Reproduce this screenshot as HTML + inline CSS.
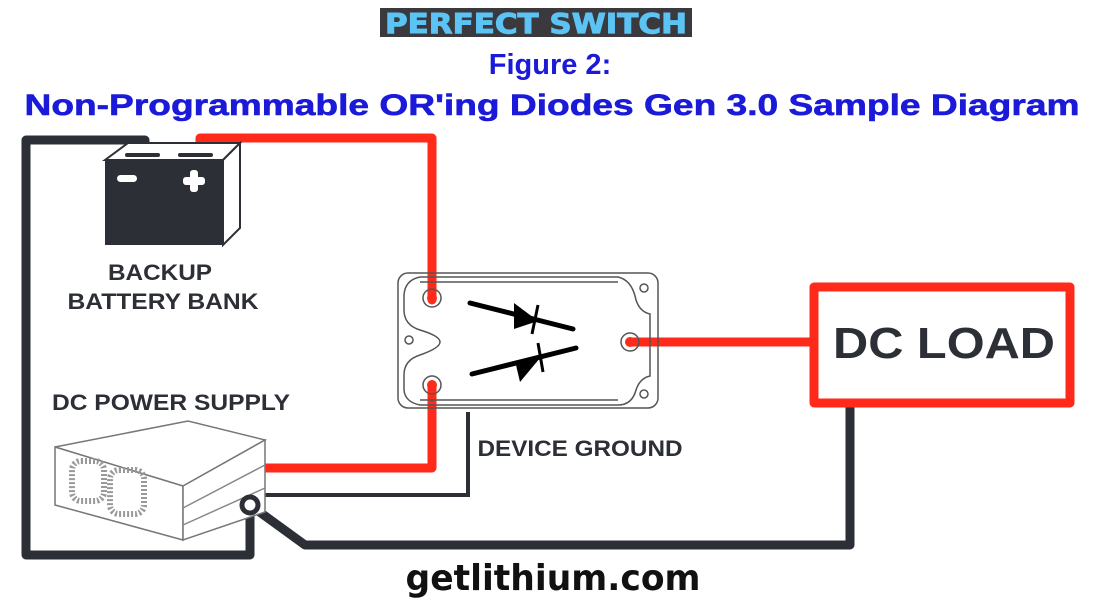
<!DOCTYPE html>
<html><head><meta charset="utf-8"><style>
html,body{margin:0;padding:0;background:#fff;}
body{width:1100px;height:606px;overflow:hidden;position:relative;font-family:"Liberation Sans",sans-serif;}
</style></head><body>
<svg width="1100" height="606" viewBox="0 0 1100 606" xmlns="http://www.w3.org/2000/svg" style="position:absolute;left:0;top:0">
<!-- logo -->
<rect x="380" y="8" width="312" height="29" fill="#3a3a3e"/>
<text x="536" y="33" text-anchor="middle" font-family="DejaVu Sans" font-weight="bold" font-size="28" fill="#5cc3f5" stroke="#5cc3f5" stroke-width="1" textLength="302" lengthAdjust="spacingAndGlyphs">PERFECT SWITCH</text>
<text x="550" y="74" text-anchor="middle" font-family="Liberation Sans" font-weight="bold" font-size="29" fill="#1a1ad8">Figure 2:</text>
<text x="552" y="115" text-anchor="middle" font-family="Liberation Sans" font-weight="bold" font-size="30" fill="#1a1ad8" stroke="#1a1ad8" stroke-width="0.6" textLength="1055" lengthAdjust="spacingAndGlyphs">Non-Programmable OR'ing Diodes Gen 3.0 Sample Diagram</text>

<!-- black wires -->
<g fill="none" stroke="#2c2f36" stroke-width="9" stroke-linejoin="round" stroke-linecap="round">
<polyline points="145,148 145,140 26,140 26,555 250,555 250,505"/>
<polyline points="250,505 305,545 850,545 850,405"/>
</g>
<polyline points="255,495 468,495 468,412" fill="none" stroke="#2c2f36" stroke-width="4"/>
<!-- red wires -->
<g fill="none" stroke="#ff2a1a" stroke-width="9" stroke-linejoin="round" stroke-linecap="round">
<polyline points="200,146 200,138 432,138 432,300"/>
<polyline points="432,385 432,468 252,468"/>
<polyline points="630,342 812,342"/>
</g>
<rect x="814" y="287" width="256" height="116" fill="none" stroke="#ff2a1a" stroke-width="9" stroke-linejoin="round"/>
<text x="944" y="358" text-anchor="middle" font-family="Liberation Sans" font-weight="bold" font-size="44" fill="#2c2f36" textLength="222" lengthAdjust="spacingAndGlyphs">DC LOAD</text>

<!-- battery -->
<rect x="105" y="160" width="118" height="85" fill="#2c2f36"/>
<polygon points="105,160 128,143 240,143 223,160" fill="#fff" stroke="#2c2f36" stroke-width="2"/>
<polygon points="223,160 240,143 240,228 223,245" fill="#fff" stroke="#2c2f36" stroke-width="2"/>
<rect x="125" y="153" width="35" height="4" rx="2" fill="#2c2f36"/>
<rect x="178" y="153" width="35" height="4" rx="2" fill="#2c2f36"/>
<rect x="117" y="175" width="20" height="7" rx="3.5" fill="#fff"/>
<rect x="190" y="170" width="8" height="22" rx="3" fill="#fff"/>
<rect x="183" y="177" width="22" height="8" rx="3" fill="#fff"/>
<g font-family="Liberation Sans" font-weight="bold" font-size="22" fill="#2c2f36" text-anchor="middle">
<text x="160" y="280" textLength="104" lengthAdjust="spacingAndGlyphs">BACKUP</text>
<text x="163" y="309" textLength="191" lengthAdjust="spacingAndGlyphs">BATTERY BANK</text>
<text x="171" y="410" textLength="238" lengthAdjust="spacingAndGlyphs">DC POWER SUPPLY</text>
<text x="580" y="456" textLength="205" lengthAdjust="spacingAndGlyphs">DEVICE GROUND</text>
</g>

<!-- device -->
<g fill="none" stroke="#555" stroke-width="1.5">
<rect x="398" y="273" width="260" height="135" rx="10"/>
<path d="M420,277 H618 Q632,280 636,300 Q640,312 650,314 V376 Q640,378 636,390 Q632,405 618,405 H420 Q405,402 404,390 V375 Q404,360 420,355 Q440,348 440,342 Q440,336 420,330 Q404,325 404,310 V295 Q405,280 420,277 Z"/>
<line x1="420" y1="282" x2="618" y2="282"/>
<line x1="420" y1="400" x2="618" y2="400"/>
<circle cx="432" cy="298" r="9"/><circle cx="432" cy="385" r="9"/><circle cx="630" cy="342" r="9"/>
<circle cx="409" cy="340" r="4"/><circle cx="644" cy="288" r="4"/><circle cx="644" cy="394" r="4"/>
</g>
<g fill="#ff2a1a"><circle cx="432" cy="298" r="5"/><circle cx="432" cy="385" r="5"/><circle cx="630" cy="342" r="5"/></g>
<g stroke="#000" stroke-width="5" stroke-linecap="round" fill="none">
<line x1="470" y1="303" x2="573" y2="329"/>
<line x1="472" y1="374" x2="576" y2="348"/>
</g>
<g fill="#000">
<polygon points="514,303 538,321 514,329"/>
<polygon points="516,365 540,358 520,382"/>
</g>
<g stroke="#000" stroke-width="3"><line x1="538" y1="305" x2="532" y2="334"/><line x1="538" y1="343" x2="543" y2="372"/></g>

<!-- power supply -->
<g fill="#fff" stroke="#777" stroke-width="1.5">
<polygon points="55,447 188,421 265,440 183,486"/>
<polygon points="55,447 183,486 183,540 55,505"/>
<polygon points="183,486 265,440 265,512 183,540"/>
</g>
<g fill="none" stroke="#999" stroke-width="6" stroke-dasharray="2 2">
<rect x="72" y="461" width="32" height="40" rx="9"/>
<rect x="110" y="470" width="34" height="44" rx="9"/>
</g>
<g stroke="#888" stroke-width="1.5"><line x1="183" y1="508" x2="265" y2="465"/><line x1="183" y1="525" x2="265" y2="488"/></g>
<circle cx="250" cy="505" r="8" fill="#fff" stroke="#2c2f36" stroke-width="5"/>

<text x="553" y="590" text-anchor="middle" font-family="DejaVu Sans" font-weight="bold" font-size="36" fill="#111" textLength="295" lengthAdjust="spacingAndGlyphs">getlithium.com</text>
</svg>
</body></html>
